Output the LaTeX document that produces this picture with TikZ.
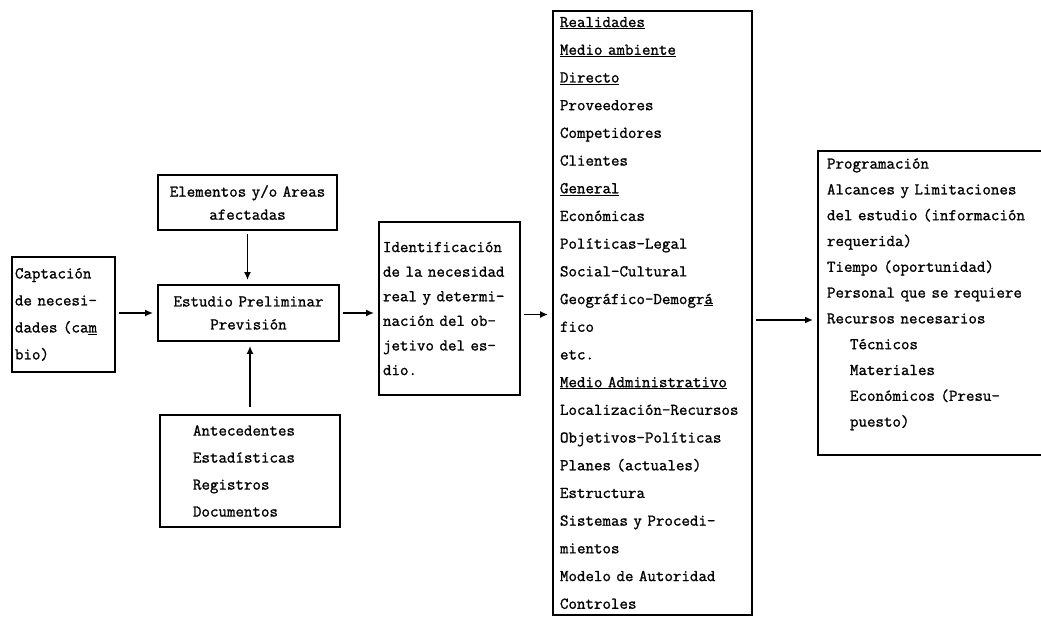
\documentclass[tikz,border=0pt]{standalone}
\usepackage{fontspec}
\usetikzlibrary{arrows.meta}
\newfontfamily\typew[FakeBold=1.2]{Latin Modern Mono}
\newcommand\boxfont[1]{\fontsize{16.5}{#1}\selectfont\typew}

\begin{document}
\begin{tikzpicture}[x=1pt,y=-1pt,
    box/.style={draw, line width=1.9pt, inner ysep=0pt},
    arr/.style={line width=1.9pt, -{Latex[length=8pt,width=7pt]}, shorten <=3pt, shorten >=4pt}]
  \useasboundingbox (0,0) rectangle (1041,617);

  % left column
  \node[box, font=\boxfont{27}, inner xsep=3pt, text width=97pt, minimum height=115pt, align=left]
    (cap) at (63.5,314.5) {Captación\\de necesi-\\dades (ca\underline{m}\\bio)};

  \node[box, font=\boxfont{23}, inner xsep=6pt, text width=167pt, minimum height=55pt, align=center]
    (elem) at (247.5,202.5) {Elementos y/o Areas\\afectadas};
  \node[box, font=\boxfont{23}, inner xsep=6pt, text width=169pt, minimum height=56pt, align=center]
    (est) at (248.5,313) {Estudio Preliminar\\Previsión};
  \node[box, font=\boxfont{27}, inner xsep=33pt, text width=114pt, minimum height=112pt, align=left]
    (ante) at (250,471) {Antecedentes\\Estadísticas\\Registros\\Documentos};

  % identificacion
  \node[box, font=\boxfont{24.6}, inner xsep=4pt, text width=133pt, minimum height=173pt, align=left]
    (ident) at (449.5,308.5) {Identificación\\de la necesidad\\real y determi-\\nación del ob-\\jetivo del es-\\dio.};

  % realidades
  \node[box, font=\boxfont{27.7}, inner xsep=7pt, text width=185pt, minimum height=604pt, align=left]
    (tall) at (652.5,313) {\underline{Realidades}\\\underline{Medio ambiente}\\\underline{Directo}\\Proveedores\\Competidores\\Clientes\\\underline{General}\\Económicas\\Políticas-Legal\\Social-Cultural\\Geográfico-Demogr\underline{á}\\fico\\etc.\\\underline{Medio Administrativo}\\Localización-Recursos\\Objetivos-Políticas\\Planes (actuales)\\Estructura\\Sistemas y Procedi-\\mientos\\Modelo de Autoridad\\Controles};

  % programacion
  \node[box, font=\boxfont{25.8}, inner xsep=9pt, text width=214pt, minimum height=304pt, align=left]
    (prog) at (934,303) {Programación\\Alcances y Limitaciones\\del estudio (información\\requerida)\\Tiempo (oportunidad)\\Personal que se requiere\\Recursos necesarios\\\hspace*{23pt}Técnicos\\\hspace*{23pt}Materiales\\\hspace*{23pt}Económicos (Presu-\\\hspace*{23pt}puesto)\rule[-21pt]{0pt}{21pt}};

  \coordinate (tin) at ([yshift=-6pt]ident.east);
  \coordinate (pin) at ([yshift=-17pt]prog.west);

  \draw[arr] (cap.east |- est.west) -- (est.west);
  \draw[arr] (elem.south) -- (elem.south |- est.north);
  \draw[arr, shorten <=7pt] (ante.north) -- (ante.north |- est.south);
  \draw[arr] (est.east) -- (est.east -| ident.west);
  \draw[arr] (tin) -- (tin -| tall.west);
  \draw[arr] (pin -| tall.east) -- (pin);
\end{tikzpicture}
\end{document}
